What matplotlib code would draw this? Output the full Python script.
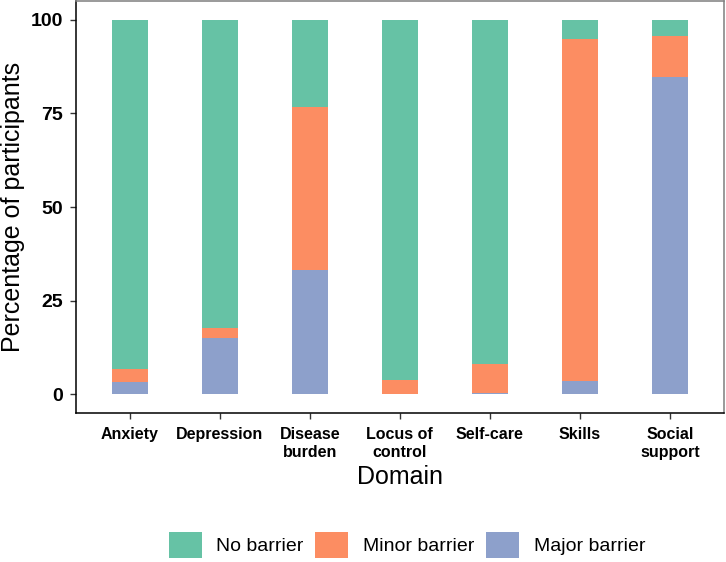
import numpy as np
import matplotlib
matplotlib.use("Agg")
import matplotlib.pyplot as plt
from matplotlib.patches import Patch

plt.rcParams['font.family'] = ['Liberation Sans', 'DejaVu Sans']

# data (percent of participants per domain)
domains = ["Anxiety", "Depression", "Disease\nburden", "Locus of\ncontrol",
           "Self-care", "Skills", "Social\nsupport"]
major = [3.4, 15.0, 33.1, 0.0, 0.3, 3.6, 84.6]
minor = [3.3, 2.8, 43.5, 3.9, 7.8, 91.3, 11.1]
no_barrier = [93.3, 82.2, 23.4, 96.1, 91.9, 5.1, 4.3]

levels = ["No barrier", "Minor barrier", "Major barrier"]
colors = {"No barrier": "#66C2A5", "Minor barrier": "#FC8D62", "Major barrier": "#8DA0CB"}

fig = plt.figure(figsize=(7.26, 5.62), dpi=100)
ax = fig.add_axes([0.1043, 0.2651, 0.8929, 0.7331])

x = np.arange(len(domains))
w = 0.4
major = np.array(major)
minor = np.array(minor)
no_barrier = np.array(no_barrier)

ax.bar(x, major, w, color=colors["Major barrier"], linewidth=0)
ax.bar(x, minor, w, bottom=major, color=colors["Minor barrier"], linewidth=0)
ax.bar(x, no_barrier, w, bottom=major + minor, color=colors["No barrier"], linewidth=0)

ax.set_xlim(-0.6, len(domains) - 0.4)
ax.set_ylim(-5, 105)
ax.set_yticks([0, 25, 50, 75, 100])
ax.set_xticks(x)
ax.set_xticklabels(domains, fontsize=11.5, fontweight='bold', linespacing=1.25)
ax.tick_params(axis='y', labelsize=14, length=4, width=1, color='#333333', pad=5)
ax.tick_params(axis='x', length=4, width=1, color='#333333', pad=6)
for lab in ax.get_yticklabels():
    lab.set_fontweight('bold')

ax.set_xlabel("Domain", fontsize=18, labelpad=4)
ax.set_ylabel("Percentage of participants", fontsize=18, va='center')
ax.yaxis.set_label_coords(-0.096, 0.5)

for s in ['left', 'bottom']:
    ax.spines[s].set_color('black')
    ax.spines[s].set_linewidth(1.1)
for s in ['top', 'right']:
    ax.spines[s].set_color('#7f7f7f')
    ax.spines[s].set_linewidth(1.1)

handles = [Patch(facecolor=colors[l], edgecolor='none', label=l) for l in levels]
fig.legend(handles=handles, loc='center', bbox_to_anchor=(407 / 726, 1 - 545 / 562),
           ncol=3, frameon=False, fontsize=14, handlelength=1.7, handleheight=1.7,
           handletextpad=0.75, columnspacing=0.6)

fig.savefig("out.png", dpi=100)
